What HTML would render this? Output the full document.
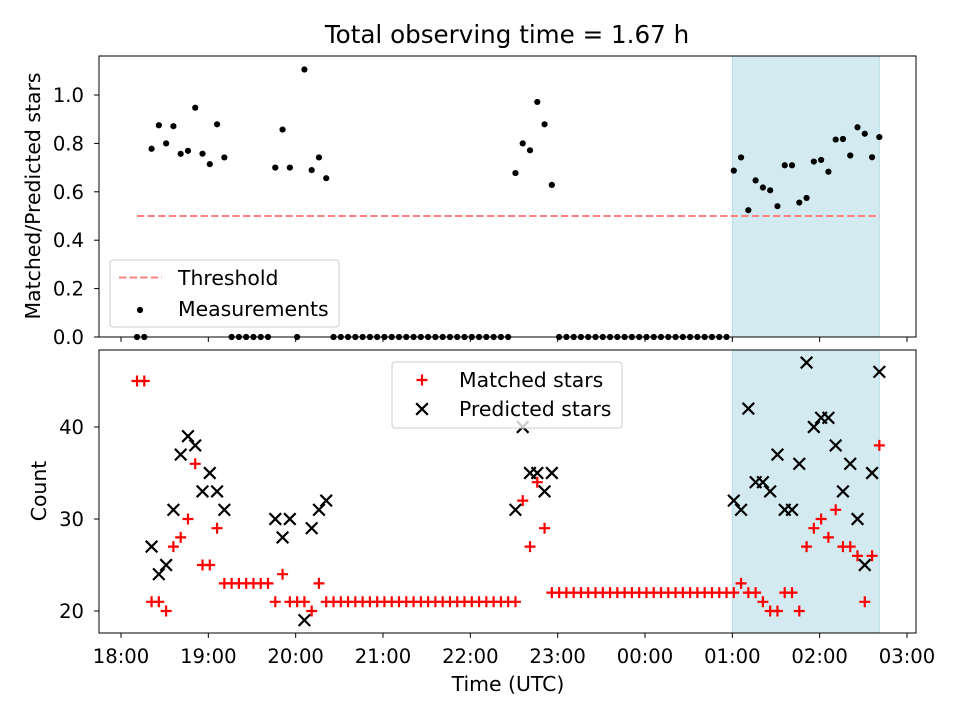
<!DOCTYPE html>
<html><head><meta charset="utf-8"><style>
html,body{margin:0;padding:0;background:#fff;}
svg{display:block;font-family:"DejaVu Sans","Liberation Sans",sans-serif;}
</style></head>
<body>
<svg id="chart" width="960" height="720" viewBox="0 0 960 720" xmlns="http://www.w3.org/2000/svg"></svg>
<script>
const timesMin = [11,16,21,26,31,36,41,46,51,56,61,66,71,76,81,86,91,96,101,106,111,116,121,126,131,136,141,146,151,156,161,166,171,176,181,186,191,196,201,206,211,216,221,226,231,236,241,246,251,256,261,266,271,276,281,286,291,296,301,306,311,316,321,326,331,336,341,346,351,356,361,366,371,376,381,386,391,396,401,406,411,416,421,426,431,436,441,446,451,456,461,466,471,476,481,486,491,496,501,506,511,516,521];
const matched = [45,45,
  21,21,20,27,28,30,36,25,25,29,
  23,23,23,23,23,23,23,
  21,24,21,21,21,20,23,
  21,21,21,21,21,21,21,21,21,21,21,21,21,21,21,21,21,21,21,21,21,21,21,21,21,21,21,
  32,27,34,29,
  22,22,22,22,22,22,22,22,22,22,22,22,22,22,22,22,22,22,22,22,22,22,22,22,22,
  22,23,22,22,21,20,20,22,22,20,27,29,30,28,31,27,27,26,21,26,38];
const predicted = [null,null,
  27,24,25,31,37,39,38,33,35,33,31,
  null,null,null,null,null,null,
  30,28,30,null,19,29,31,32,
  null,null,null,null,null,null,null,null,null,null,null,null,null,null,null,null,null,null,null,null,null,null,null,null,null,
  31,40,35,35,33,35,
  null,null,null,null,null,null,null,null,null,null,null,null,null,null,null,null,null,null,null,null,null,null,null,null,
  32,31,42,34,34,33,37,31,31,36,47,40,41,41,38,33,36,30,25,35,46];
const threshold = 0.5;
const shadeRange = [420, 521];
const xTickMin = [0,60,120,180,240,300,360,420,480,540];
const xTickLabels = ["18:00","19:00","20:00","21:00","22:00","23:00","00:00","01:00","02:00","03:00"];
const topTicks = [0,0.2,0.4,0.6,0.8,1.0];
const botTicks = [20,30,40];

const NS="http://www.w3.org/2000/svg";
const svg=document.getElementById('chart');
function mk(tag,attrs,parent){const e=document.createElementNS(NS,tag);for(const k in attrs)e.setAttribute(k,attrs[k]);(parent||svg).appendChild(e);return e;}
const L=99,R=916;
const FT='19.6', FL='20.4';
const x=m=>121+(m)*(786/540);
const T={top:56,bot:337}, B={top:350,bot:633};
const yT=v=>337-v*242;
const yB=v=>611-(v-20)*9.2;

let t=mk('text',{x:507,y:43,'text-anchor':'middle','font-size':'24.6'});t.textContent='Total observing time = 1.67 h';


function panel(P,name){
  const g=mk('g',{});
  
  const r=mk('rect',{x:x(shadeRange[0]),y:P.top,width:x(shadeRange[1])-x(shadeRange[0]),height:P.bot-P.top,fill:'#d4eaf1',stroke:'#b7dcea','stroke-width':1},g);
  
  return g;
}
const gT=panel(T,'top-panel'), gB=panel(B,'bottom-panel');

let th=mk('line',{x1:x(timesMin[0]),x2:x(timesMin[timesMin.length-1]),y1:yT(threshold),y2:yT(threshold),stroke:'#ff8080','stroke-width':2,'stroke-dasharray':'7.4,3.2'},gT);


timesMin.forEach((m,i)=>{
  const ratio=predicted[i]?matched[i]/predicted[i]:0;
  const c=mk('circle',{cx:x(m),cy:yT(ratio),r:3.1,fill:'#000'},gT);
  
  
});
timesMin.forEach((m,i)=>{
  const cx=x(m),cy=yB(matched[i]);
  const p=mk('path',{d:`M${cx-5.5},${cy}H${cx+5.5}M${cx},${cy-5.5}V${cy+5.5}`,stroke:'#ff0000','stroke-width':2.2,fill:'none'},gB);
  
  
});
timesMin.forEach((m,i)=>{
  if(predicted[i]==null)return;
  const cx=x(m),cy=yB(predicted[i]),s=5.8;
  const p=mk('path',{d:`M${cx-s},${cy-s}L${cx+s},${cy+s}M${cx-s},${cy+s}L${cx+s},${cy-s}`,stroke:'#000','stroke-width':2.2,fill:'none'},gB);
  
  
});

[[T,'top-axes-frame'],[B,'bottom-axes-frame']].forEach(([P,n])=>{
  const f=mk('rect',{x:L,y:P.top,width:R-L,height:P.bot-P.top,fill:'none',stroke:'#000','stroke-width':1});
  
});
xTickMin.forEach((m,i)=>{
  mk('line',{x1:x(m),x2:x(m),y1:T.bot,y2:T.bot+4.9,stroke:'#000','stroke-width':1});
  mk('line',{x1:x(m),x2:x(m),y1:B.bot,y2:B.bot+4.9,stroke:'#000','stroke-width':1});
  const tl=mk('text',{x:x(m),y:663,'text-anchor':'middle','font-size':FT});
  tl.textContent=xTickLabels[i];
  
  
});
topTicks.forEach(v=>{
  mk('line',{x1:L-4.9,x2:L,y1:yT(v),y2:yT(v),stroke:'#000','stroke-width':1});
  const tl=mk('text',{x:84,y:yT(v)+7,'text-anchor':'end','font-size':FT});
  tl.textContent=v.toFixed(1);
  
  
});
botTicks.forEach(v=>{
  mk('line',{x1:L-4.9,x2:L,y1:yB(v),y2:yB(v),stroke:'#000','stroke-width':1});
  const tl=mk('text',{x:84,y:yB(v)+7,'text-anchor':'end','font-size':FT});
  tl.textContent=String(v);
  
  
});
let yl=mk('text',{x:0,y:0,'text-anchor':'middle','font-size':FL,transform:'translate(40,196) rotate(-90)'});yl.textContent='Matched/Predicted stars';

let yl2=mk('text',{x:0,y:0,'text-anchor':'middle','font-size':FL,transform:'translate(46,491) rotate(-90)'});yl2.textContent='Count';

let xl=mk('text',{x:508,y:691,'text-anchor':'middle','font-size':FL});xl.textContent='Time (UTC)';


const lg1=mk('g',{});
mk('rect',{x:110,y:260,width:229,height:67,rx:3,fill:'#fff','fill-opacity':0.8,stroke:'#ccc'},lg1);
mk('line',{x1:119,x2:162,y1:277.5,y2:277.5,stroke:'#ff8080','stroke-width':2,'stroke-dasharray':'7.4,3.2'},lg1);
let a=mk('text',{x:178,y:285,'font-size':FL},lg1);a.textContent='Threshold';
mk('circle',{cx:140,cy:310,r:3.1,fill:'#000'},lg1);
a=mk('text',{x:178,y:316,'font-size':FL},lg1);a.textContent='Measurements';

const lg2=mk('g',{});
mk('rect',{x:392,y:362,width:230,height:66,rx:3,fill:'#fff','fill-opacity':0.8,stroke:'#ccc'},lg2);
mk('path',{d:'M416.5,380H427.5M422,374.5V385.5',stroke:'#ff0000','stroke-width':2.2},lg2);
a=mk('text',{x:459,y:387,'font-size':FL},lg2);a.textContent='Matched stars';
mk('path',{d:'M416.2,403.2L427.8,414.8M416.2,414.8L427.8,403.2',stroke:'#000','stroke-width':2.2},lg2);
a=mk('text',{x:459,y:416,'font-size':FL},lg2);a.textContent='Predicted stars';
</script>
</body></html>
